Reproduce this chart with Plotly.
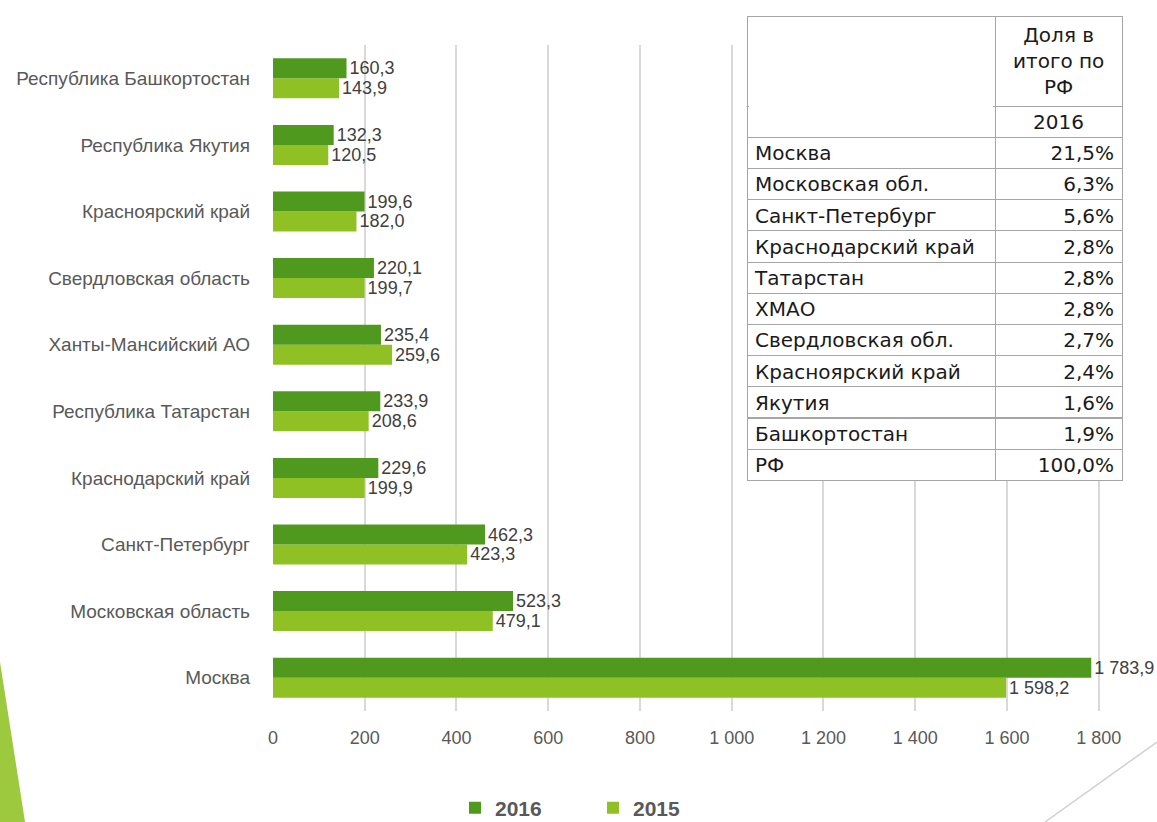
import plotly.graph_objects as go

regions = ["Москва", "Московская область", "Санкт-Петербург", "Краснодарский край",
           "Республика Татарстан", "Ханты-Мансийский АО", "Свердловская область",
           "Красноярский край", "Республика Якутия", "Республика Башкортостан"]
v2016 = [1783.9, 523.3, 462.3, 229.6, 233.9, 235.4, 220.1, 199.6, 132.3, 160.3]
v2015 = [1598.2, 479.1, 423.3, 199.9, 208.6, 259.6, 199.7, 182.0, 120.5, 143.9]

tick_vals = [0, 200, 400, 600, 800, 1000, 1200, 1400, 1600, 1800]
tick_text = ["0", "200", "400", "600", "800", "1 000", "1 200", "1 400", "1 600", "1 800"]

table_names = ["Москва", "Московская обл.", "Санкт-Петербург", "Краснодарский край",
               "Татарстан", "ХМАО", "Свердловская обл.", "Красноярский край",
               "Якутия", "Башкортостан", "РФ"]
table_share = ["21,5%", "6,3%", "5,6%", "2,8%", "2,8%", "2,8%", "2,7%", "2,4%",
               "1,6%", "1,9%", "100,0%"]
table_title = "Доля в<br>итого по<br>РФ"
table_year = "2016"

C16 = "#4f9a1e"
C15 = "#8fc125"
TXT = "#595959"
W, H = 1157, 822
HDR = 90  # header height px
TOP = 16  # table top px

fig = go.Figure()
fig.add_trace(go.Bar(
    y=regions, x=v2015, name="2015", orientation="h",
    marker=dict(color=C15, line=dict(width=0)),
    text=v2015, texttemplate="%{x:,.1f}", textposition="outside",
    constraintext="none",
    textfont=dict(size=18, color="#404040", family="Liberation Sans"),
    cliponaxis=False, legendrank=2,
))
fig.add_trace(go.Bar(
    y=regions, x=v2016, name="2016", orientation="h",
    marker=dict(color=C16, line=dict(width=0)),
    text=v2016, texttemplate="%{x:,.1f}", textposition="outside",
    constraintext="none",
    textfont=dict(size=18, color="#404040", family="Liberation Sans"),
    cliponaxis=False, legendrank=1,
))

TFONT = "DejaVu Sans"
fig.add_trace(go.Table(
    domain=dict(x=[747/W, 1122/W], y=[1-500/H, 1-TOP/H]),
    columnwidth=[248, 127],
    header=dict(values=["", ""],
                height=HDR,
                line=dict(color="#a6a6a6", width=1),
                fill=dict(color="white"),
                font=dict(family=TFONT, size=20, color="#1a1a1a")),
    cells=dict(values=[[""] + table_names, [""] + table_share],
               align=["left", "right"],
               height=31.2,
               line=dict(color="#a6a6a6", width=1),
               fill=dict(color="white"),
               font=dict(family=TFONT, size=20, color="#1a1a1a")),
))

fig.update_layout(
    width=W, height=H,
    margin=dict(l=0, r=0, t=0, b=0, autoexpand=False),
    paper_bgcolor="white", plot_bgcolor="white",
    separators=", ",
    barmode="group", bargap=0.4, bargroupgap=0.0,
    font=dict(family="Liberation Sans", color=TXT),
    xaxis=dict(domain=[273/W, 1117/W], range=[0, 1840],
               tickvals=tick_vals, ticktext=tick_text,
               tickfont=dict(size=18, color=TXT, family="Liberation Sans"),
               showgrid=True, gridcolor="#d9d9d9", gridwidth=2,
               zeroline=False, showline=False, ticks="", ticklabelstandoff=14),
    yaxis=dict(domain=[1-711/H, 1-45/H],
               tickfont=dict(size=19, color=TXT),
               showgrid=False, zeroline=False, showline=False, ticks="",
               ticklabelstandoff=22),
    legend=dict(orientation="h", x=455/W, xanchor="left", y=-0.008, yanchor="bottom",
                font=dict(size=21, color=TXT, family="Liberation Sans", weight="bold"),
                entrywidth=93, entrywidthmode="pixels", traceorder="normal"),
    showlegend=True,
    annotations=[
        dict(xref="paper", yref="paper", x=1058.5/W, y=1-(TOP + HDR/2)/H, text=table_title,
             showarrow=False, align="center", xanchor="center", yanchor="middle",
             font=dict(family=TFONT, size=20, color="#1a1a1a")),
        dict(xref="paper", yref="paper", x=1058.5/W, y=1-(TOP + HDR + 15.6)/H, text=table_year,
             showarrow=False, align="center", xanchor="center", yanchor="middle",
             font=dict(family=TFONT, size=20, color="#1a1a1a")),
    ],
    shapes=[
        dict(type="path", xref="paper", yref="paper",
             path=f"M 0 {1-662/H} L {25/W} 0 L 0 0 Z",
             fillcolor="#9dc93f", line=dict(width=0), layer="below"),
        dict(type="line", xref="paper", yref="paper",
             x0=1045/W, y0=0, x1=1.0, y1=1-742/H,
             line=dict(color="#d0d0d0", width=1.5)),
        dict(type="line", xref="paper", yref="paper", layer="above",
             x0=749/W, x1=993/W, y0=1-(TOP + HDR)/H, y1=1-(TOP + HDR)/H,
             line=dict(color="white", width=3)),
    ],
)

fig.write_html("out.html",
               config={"displayModeBar": False},
               post_script="document.body.style.margin='0';document.body.style.padding='0';")
